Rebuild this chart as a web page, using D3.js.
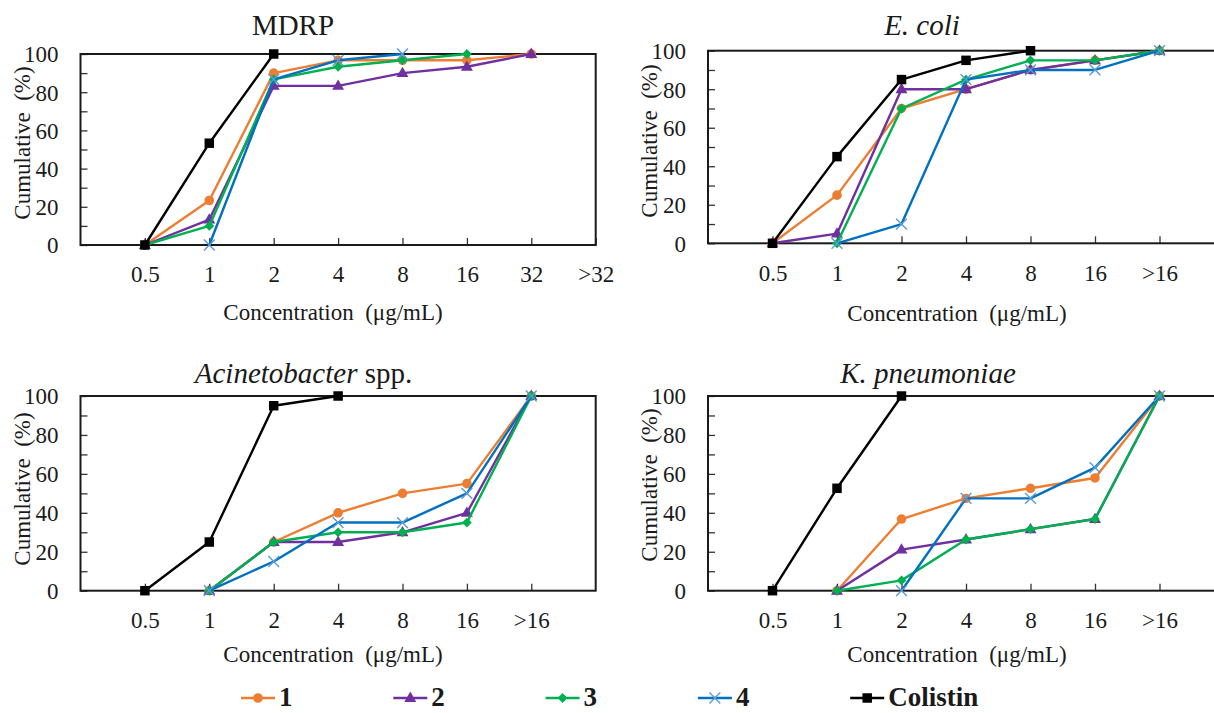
<!DOCTYPE html>
<html>
<head>
<meta charset="utf-8">
<script src="https://cdn.jsdelivr.net/npm/d3@7"></script>
<style>
  html, body { margin: 0; padding: 0; background: #fff; }
  svg text { font-family: "Liberation Serif", Tinos, "Times New Roman", Times, "DejaVu Serif", serif !important; fill: #1a1a1a; }
</style>
</head>
<body>
<svg id="chart" width="1214" height="713"></svg>
<script>
// ---------------- DATA ----------------
const catsMDRP = ["0.5", "1", "2", "4", "8", "16", "32", ">32"];
const catsOther = ["0.5", "1", "2", "4", "8", "16", ">16"];
const yTickValues = [0, 10, 20, 30, 40, 50, 60, 70, 80, 90, 100];
const seriesNames = ["1", "2", "3", "4", "Colistin"];

// MDRP
const mdrp1 = [0, 23.3, 90, 96.7, 96.7, 96.7, 100, null];
const mdrp2 = [0, 13.3, 83.3, 83.3, 90, 93.3, 100, null];
const mdrp3 = [0, 10, 86.7, 93.3, 96.7, 100, null, null];
const mdrp4 = [null, 0, 86.7, 96.7, 100, null, null, null];
const mdrpCol = [0, 53.3, 100, null, null, null, null, null];

// E. coli
const ecoli1 = [0, 25, 70, 80, 90, 95, 100];
const ecoli2 = [0, 5, 80, 80, 90, 95, 100];
const ecoli3 = [null, 0, 70, 85, 95, 95, 100];
const ecoli4 = [null, 0, 10, 85, 90, 90, 100];
const ecoliCol = [0, 45, 85, 95, 100, null, null];

// Acinetobacter spp.
const acin1 = [null, 0, 25, 40, 50, 55, 100];
const acin2 = [null, 0, 25, 25, 30, 40, 100];
const acin3 = [null, 0, 25, 30, 30, 35, 100];
const acin4 = [null, 0, 15, 35, 35, 50, 100];
const acinCol = [0, 25, 95, 100, null, null, null];

// K. pneumoniae
const kp1 = [null, 0, 36.8, 47.4, 52.6, 57.9, 100];
const kp2 = [null, 0, 21.1, 26.3, 31.6, 36.8, 100];
const kp3 = [null, 0, 5.3, 26.3, 31.6, 36.8, 100];
const kp4 = [null, null, 0, 47.4, 47.4, 63.2, 100];
const kpCol = [0, 52.6, 100, null, null, null, null];

// ---------------- STYLE / LAYOUT ----------------
const lineColors = ["#ED7D31", "#7030A0", "#00B050", "#0070C0", "#000000"];
const markerColors = ["#ED7D31", "#7030A0", "#00B050", "#5B9BD5", "#000000"];
const FONT = '"Liberation Serif", Tinos, "Times New Roman", Times, "DejaVu Serif", serif';

const panels = [
  { title: [["MDRP", false]], cats: catsMDRP, series: [mdrp1, mdrp2, mdrp3, mdrp4, mdrpCol],
    x0: 80.5, step: 64.4, top: 54, bottom: 245,
    titleX: 293, titleY: 35, xTitleX: 333, xTitleY: 320, yTitleX: 30, yTitleY: 143 },
  { title: [["E. coli", true]], cats: catsOther, series: [ecoli1, ecoli2, ecoli3, ecoli4, ecoliCol],
    x0: 708, step: 64.5, top: 50.7, bottom: 243.3,
    titleX: 922, titleY: 35, xTitleX: 957, xTitleY: 321, yTitleX: 657, yTitleY: 141 },
  { title: [["Acinetobacter", true], [" spp.", false]], cats: catsOther, series: [acin1, acin2, acin3, acin4, acinCol],
    x0: 80.5, step: 64.4, top: 396, bottom: 590.7,
    titleX: 303.5, titleY: 383, xTitleX: 333, xTitleY: 661.5, yTitleX: 30, yTitleY: 489 },
  { title: [["K. pneumoniae", true]], cats: catsOther, series: [kp1, kp2, kp3, kp4, kpCol],
    x0: 708, step: 64.5, top: 396, bottom: 590.7,
    titleX: 928, titleY: 383, xTitleX: 957, xTitleY: 661.5, yTitleX: 657, yTitleY: 485 }
];

const svg = d3.select("#chart");

function drawMarker(g, i, cx, cy) {
  const c = markerColors[i];
  if (i === 0) {
    g.append("path").attr("d", d3.symbol(d3.symbolCircle, 72)()).attr("transform", `translate(${cx},${cy})`).attr("fill", c);
  } else if (i === 1) {
    g.append("path").attr("d", d3.symbol(d3.symbolTriangle, 62)()).attr("transform", `translate(${cx},${cy + 0.5})`).attr("fill", c);
  } else if (i === 2) {
    g.append("path").attr("d", d3.symbol(d3.symbolSquare, 48)()).attr("transform", `translate(${cx},${cy}) rotate(45)`).attr("fill", c);
  } else if (i === 3) {
    g.append("path").attr("d", d3.symbol(d3.symbolTimes, 78)()).attr("transform", `translate(${cx},${cy})`)
      .attr("fill", "none").attr("stroke", c).attr("stroke-width", 1.4);
  } else {
    g.append("path").attr("d", d3.symbol(d3.symbolSquare, 90)()).attr("transform", `translate(${cx},${cy})`).attr("fill", c);
  }
}

panels.forEach(p => {
  const g = svg.append("g");
  const x = d3.scaleLinear().domain([-1, 7]).range([p.x0, p.x0 + 8 * p.step]);
  const y = d3.scaleLinear().domain([0, 100]).range([p.bottom, p.top]);

  // y axis (ticks inward, labels every 20)
  const yAxis = d3.axisLeft(y).tickValues(yTickValues).tickSize(-7).tickPadding(22)
    .tickFormat(d => d % 20 === 0 ? d : "");
  const ya = g.append("g").attr("transform", `translate(${x(-1)},0)`).call(yAxis)
    .attr("font-family", null).attr("font-size", null);
  ya.select(".domain").remove();
  ya.selectAll(".tick line").attr("stroke", "#333").attr("stroke-width", 1.3);
  ya.selectAll(".tick text").attr("font-size", 23).attr("fill", "#1a1a1a").attr("dy", "0.34em")
    .style("font-family", FONT);

  // x axis (ticks inward at categories)
  const xAxis = d3.axisBottom(x).tickValues(d3.range(p.cats.length)).tickSize(-7).tickPadding(21)
    .tickFormat(i => p.cats[i]);
  const xa = g.append("g").attr("transform", `translate(0,${p.bottom})`).call(xAxis)
    .attr("font-family", null).attr("font-size", null);
  xa.select(".domain").remove();
  xa.selectAll(".tick line").attr("stroke", "#333").attr("stroke-width", 1.3);
  xa.selectAll(".tick text").attr("font-size", 23).attr("fill", "#1a1a1a")
    .style("font-family", FONT);

  // plot box
  g.append("rect").attr("x", x(-1)).attr("y", y(100))
    .attr("width", x(7) - x(-1)).attr("height", y(0) - y(100))
    .attr("fill", "none").attr("stroke", "#1a1a1a").attr("stroke-width", 2);

  // series
  p.series.forEach((vals, si) => {
    const pts = vals.map((v, i) => ({ i, v }));
    const line = d3.line().defined(d => d.v !== null).x(d => x(d.i)).y(d => y(d.v));
    const sg = g.append("g");
    sg.append("path").attr("d", line(pts)).attr("fill", "none")
      .attr("stroke", lineColors[si]).attr("stroke-width", 2.4).attr("stroke-linejoin", "round");
    pts.filter(d => d.v !== null).forEach(d => drawMarker(sg, si, x(d.i), y(d.v)));
  });

  // title
  const t = g.append("text").attr("x", p.titleX).attr("y", p.titleY)
    .attr("text-anchor", "middle").attr("font-size", 29).style("font-family", FONT);
  p.title.forEach(([s, it]) => t.append("tspan").text(s).attr("font-style", it ? "italic" : "normal"));

  // axis titles
  g.append("text").attr("x", p.xTitleX).attr("y", p.xTitleY).attr("text-anchor", "middle")
    .attr("font-size", 23).style("font-family", FONT).style("white-space", "pre").text("Concentration  (μg/mL)");
  g.append("text").attr("transform", `translate(${p.yTitleX},${p.yTitleY}) rotate(-90)`)
    .attr("text-anchor", "middle").attr("font-size", 23).style("font-family", FONT)
    .style("white-space", "pre").text("Cumulative  (%)");
});

// legend
const legend = svg.append("g");
const legX0 = 241, legStep = 152.3, legY = 698, legLen = 34;
seriesNames.forEach((name, i) => {
  const lx = legX0 + i * legStep;
  legend.append("line").attr("x1", lx).attr("x2", lx + legLen).attr("y1", legY).attr("y2", legY)
    .attr("stroke", lineColors[i]).attr("stroke-width", 2.4);
  drawMarker(legend, i, lx + legLen / 2, legY);
  legend.append("text").attr("x", lx + legLen + 4).attr("y", legY + 8)
    .attr("font-size", 27).attr("font-weight", "bold").style("font-family", FONT).text(name);
});
</script>
</body>
</html>
